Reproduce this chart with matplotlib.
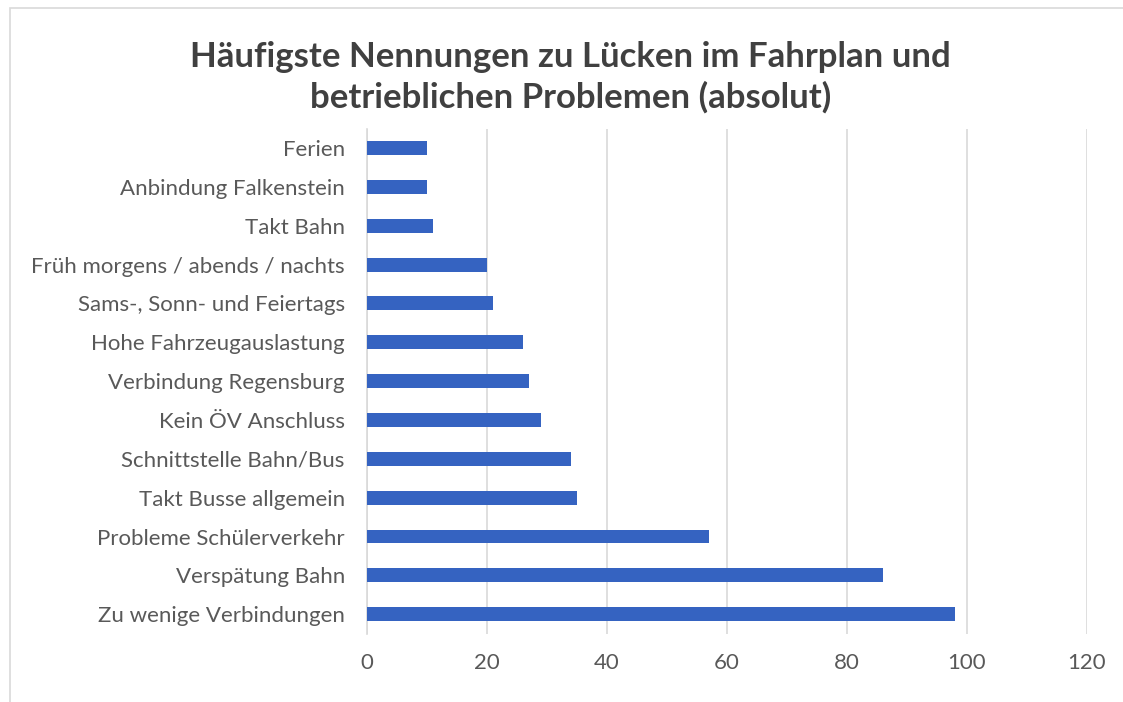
import matplotlib.pyplot as plt
from matplotlib.patches import Rectangle

# Daten (von oben nach unten wie im Original)
kategorien = [
    "Ferien",
    "Anbindung Falkenstein",
    "Takt Bahn",
    "Früh morgens / abends / nachts",
    "Sams-, Sonn- und Feiertags",
    "Hohe Fahrzeugauslastung",
    "Verbindung Regensburg",
    "Kein ÖV Anschluss",
    "Schnittstelle Bahn/Bus",
    "Takt Busse allgemein",
    "Probleme Schülerverkehr",
    "Verspätung Bahn",
    "Zu wenige Verbindungen",
]
nennungen = [10, 10, 11, 20, 21, 26, 27, 29, 34, 35, 57, 86, 98]
x_ticks = [0, 20, 40, 60, 80, 100, 120]

plt.rcParams['font.family'] = ['Lato', 'DejaVu Sans']

fig = plt.figure(figsize=(11.23, 7.02), dpi=100)
ax = fig.add_axes([0.3268, 0.0974, 0.641, 0.7194])

y = list(range(len(kategorien)))
ax.barh(y, nennungen, height=0.36, color='#3563C1', zorder=3)

ax.set_ylim(len(kategorien) - 0.5, -0.5)
ax.set_xlim(0, 120)
ax.set_xticks(x_ticks)
ax.set_yticks(y)
ax.set_yticklabels(kategorien)

ax.tick_params(axis='y', length=0, pad=16, labelsize=16, labelcolor='#595959')
ax.tick_params(axis='x', length=0, pad=14, labelsize=16, labelcolor='#595959')

ax.grid(axis='x', color='#D9D9D9', linewidth=1.2, zorder=0)
for s in ['top', 'right', 'bottom']:
    ax.spines[s].set_visible(False)
ax.spines['left'].set_color('#D9D9D9')
ax.spines['left'].set_linewidth(1.2)

fig.text(0.508, 0.89, "Häufigste Nennungen zu Lücken im Fahrplan und\nbetrieblichen Problemen (absolut)",
         ha='center', va='center', fontsize=25, fontweight='bold', color='#404040',
         linespacing=1.3)

# Rahmen des Diagramms
fig.patches.append(Rectangle((0.009, -0.01), 1.0, 0.999, transform=fig.transFigure,
                             fill=False, edgecolor='#D9D9D9', linewidth=1.2))

fig.savefig('out.png', dpi=100)
